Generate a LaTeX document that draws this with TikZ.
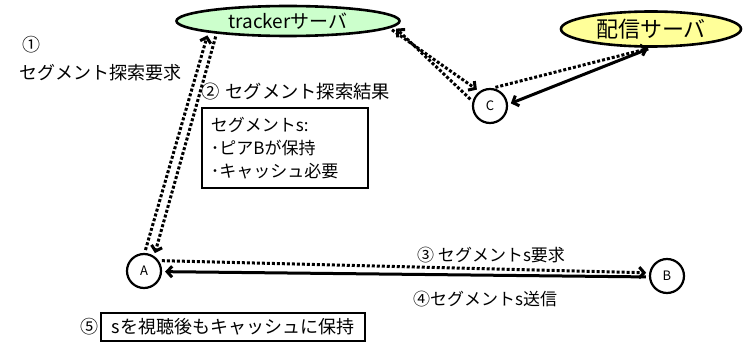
\documentclass[tikz,border=0pt]{standalone}
\usepackage{fontspec}
\setmainfont{Noto Sans CJK JP}
\usetikzlibrary{arrows.meta,shapes.geometric}
\definecolor{trk}{HTML}{CCFFCC}
\definecolor{hsn}{HTML}{FFFF99}
\begin{document}
\begin{tikzpicture}[x=1pt,y=-1pt,
  srv/.style={ellipse,draw,line width=2.6pt,inner sep=0pt},
  peer/.style={circle,draw,line width=2.2pt,minimum size=34pt,inner sep=0pt,font=\fontsize{13}{15}\selectfont},
  lbl/.style={inner sep=0pt,font=\fontsize{18}{21}\selectfont},
  msgbox/.style={draw,line width=1.7pt,font=\fontsize{17}{23}\selectfont},
  tip/.style={-{Straight Barb[length=5pt,width=11pt]}},
  dotarrow/.style={tip,line width=3pt,dash pattern=on 3pt off 2pt,shorten >=3pt,shorten <=3pt},
  solarrow/.style={tip,line width=3pt,shorten >=3pt,shorten <=3pt}
]
\useasboundingbox (0,0) rectangle (745,342);
% servers and peers
\node[srv,fill=trk,minimum width=223pt,minimum height=30pt,font=\fontsize{19}{22}\selectfont] (tracker) at (288,21) {trackerサーバ};
\node[srv,fill=hsn,minimum width=180pt,minimum height=35pt,font=\fontsize{22}{26}\selectfont] (haishin) at (651,29) {配信サーバ};
\node[peer] (C) at (490,106) {C};
\node[peer] (A) at (144,271) {A};
\node[peer] (B) at (667,276) {B};
% labels
\node[lbl] (n1) at (31,45) {①};
\node[lbl,anchor=west] (l1) at (19,73) {セグメント探索要求};
\node[lbl,anchor=west,font=\fontsize{18.3}{22}\selectfont] (l2) at (201,92) {②\hspace{6pt}セグメント探索結果};
\node[msgbox,anchor=north west,minimum width=166pt,minimum height=80pt,text width=148pt,inner xsep=9pt,align=left] (box) at (201,107)
  {セグメントs:\\･ピアBが保持\\･キャッシュ必要};
\node[lbl,anchor=west,font=\fontsize{17}{20}\selectfont] (l3) at (417,255) {③ セグメントs要求};
\node[lbl,anchor=west,font=\fontsize{17}{20}\selectfont] (l4) at (413,299) {④セグメントs送信};
\node[lbl] (n5) at (89,327) {⑤};
\node[msgbox,anchor=west,minimum width=264pt,minimum height=28pt,inner sep=0pt,font=\fontsize{18}{21}\selectfont] (box5) at (100,327) {sを視聴後もキャッシュに保持};
% connectors
\draw[dotarrow] (A.88) -- (tracker.south west);
\draw[dotarrow] (tracker.190) -- (A.56);
\draw[dotarrow] (C.165) -- (tracker.357);
\draw[dotarrow] (tracker.356) -- (C.126);
\draw[dotarrow] (C.82) -- (haishin.south);
\draw[solarrow] (haishin.south) -- (C.5);
\draw[dotarrow] (A.35) -- (B.170);
\draw[solarrow] (B.183) -- (A.358);
\end{tikzpicture}
\end{document}
